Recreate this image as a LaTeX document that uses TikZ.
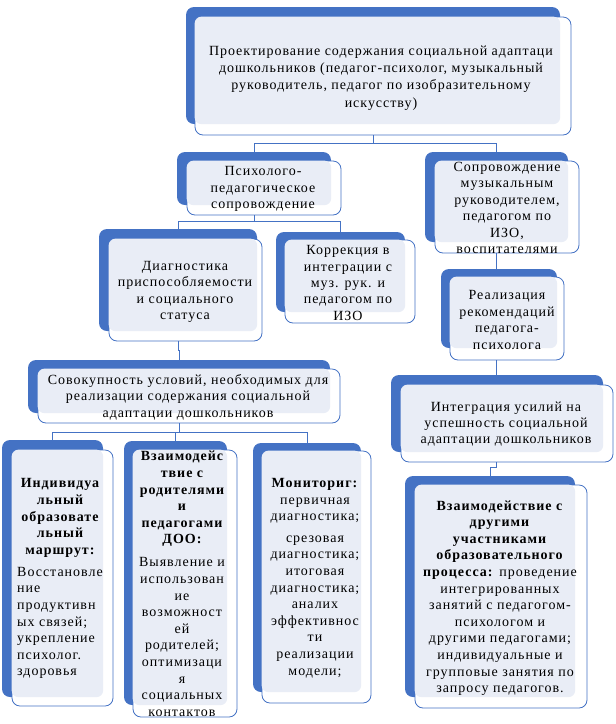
\documentclass[tikz,border=0pt]{standalone}
\usepackage{fontspec}
\setmainfont{Liberation Serif}[LetterSpace=7]
\newfontfamily\tnr{Liberation Serif}[LetterSpace=7]
\usetikzlibrary{fit,calc}
\definecolor{bl}{HTML}{4472C4}
\definecolor{lt}{HTML}{E9EDF6}
\tikzset{
  x=1pt,y=-1pt,
  backbox/.style={fill=bl, rounded corners=8pt, inner sep=0pt, draw=none},
  outbox/.style={draw=bl, line width=0.8pt, fill=white, rounded corners=8pt, inner sep=0pt},
  conn/.style={draw=bl, line width=0.9pt},
  txttop/.style={align=center, inner sep=0pt, font=\tnr\fontsize{14}{17.2}\selectfont},
  txt/.style={align=center, inner sep=0pt, font=\tnr\fontsize{14}{16.4}\selectfont},
  txtsm/.style={align=center, inner sep=0pt, font=\tnr\fontsize{14}{16.6}\selectfont},
  txtb/.style={align=center, inner sep=0pt, font=\tnr\fontsize{14}{16.6}\selectfont\bfseries},
}
% #1 name, #2 blue top-left, #3 blue bottom-right, #4 outline top-left, #5 outline bottom-right
\newcommand\tribox[5]{%
  \node[backbox, fit={(#2) (#3)}] (b-#1) {};
  \node[outbox, fit={(#4) (#5)}] (o-#1) {};
  \fill[lt, rounded corners=7pt] (o-#1.north west) rectangle (b-#1.south east);
}
\begin{document}
\begin{tikzpicture}
\useasboundingbox (0,0) rectangle (616,724);

\tribox{top}{186,7}{560,124}{195,17}{571,135}
\tribox{psy}{177,152}{331,205}{187,161}{341,215}
\tribox{sopr}{425,152}{568,242}{435,161}{579,253}
\tribox{diag}{99,229}{257,331}{109,239}{262,341}
\tribox{korr}{276,232}{405,312}{285,240}{415,323}
\tribox{real}{441,269}{557,348}{450,277}{564,360}
\tribox{sov}{28,360}{330,413}{38,369}{340,423}
\tribox{int}{391,375}{603,452}{401,385}{613,462}
\tribox{ind}{2,440}{103,697}{12,450}{113,706}
\tribox{vz}{124,441}{227,705}{133,450}{237,717}
\tribox{mon}{253,443}{361,692}{262,451}{371,703}
\tribox{vd}{405,476}{575,697}{415,485}{587,708}

% texts
\node[txttop] (t-top) at (381,78) {Проектирование содержания социальной адаптаци\\дошкольников (педагог-психолог, музыкальный\\руководитель, педагог по изобразительному\\искусству)};
\node[txt] (t-psy) at (263,189) {Психолого-\\педагогическое\\сопровождение};
\node[txt] (t-sopr) at (507,208) {Сопровождение\\музыкальным\\руководителем,\\педагогом по\\ИЗО,\\воспитателями};
\node[txt] (t-diag) at (185,292) {Диагностика\\приспособляемости\\и социального\\статуса};
\node[txt] (t-korr) at (348,283) {Коррекция в\\интеграции с\\муз. рук. и\\педагогом по\\ИЗО};
\node[txt] (t-real) at (507,320) {Реализация\\рекомендаций\\педагога-\\психолога};
\node[txt] (t-sov) at (188,397) {Совокупность условий, необходимых для\\реализации содержания социальной\\адаптации дошкольников};
\node[txt] (t-int) at (506,424) {Интеграция усилий на\\успешность социальной\\адаптации дошкольников};

\node[txtb] (t-ind-a) at (60,518) {Индивидуа\\льный\\образовате\\льный\\маршрут:};
\node[txtsm, align=left, anchor=north west] (t-ind-b) at (17,567) {Восстановле\\ние\\продуктивн\\ых связей;\\укрепление\\психолог.\\здоровья};

\node[txtb] (t-vz-a) at (182,499) {Взаимодейс\\твие с\\родителями\\и\\педагогами\\ДОО:};
\node[txtsm] (t-vz-b) at (182,637) {Выявление и\\использован\\ие\\возможност\\ей\\родителей;\\оптимизаци\\я\\социальных\\контактов};

\node[txtsm] (t-mon) at (315,578) {\textbf{Мониториг:}\\первичная\\диагностика;\\[5pt]срезовая\\диагностика;\\итоговая\\диагностика;\\аналих\\эффективнос\\ти\\реализации\\модели;};

\node[txtsm] (t-vd) at (500,598) {\textbf{Взаимодействие с}\\\textbf{другими}\\\textbf{участниками}\\\textbf{образовательного}\\\textbf{процесса:} проведение\\интегрированных\\занятий с педагогом-\\психологом и\\другими педагогами;\\индивидуальные и\\групповые занятия по\\запросу педагогов.};

% connectors
\draw[conn] ([xshift=-10pt]o-top.south) -- ++(0,8) coordinate (j1);
\draw[conn] (b-psy.north) |- (j1) -| (b-sopr.north);
\draw[conn] (o-psy.south -| b-psy.north) -- ++(0,6) coordinate (j2);
\draw[conn] (b-diag.north) |- (j2) -| (b-korr.north);
\draw[conn] (o-diag.south -| b-diag.north) -- ++(0,9) -| (b-sov.north);
\draw[conn] (o-sov.south -| b-sov.north) -- ++(0,9) coordinate (j3);
\draw[conn] (b-ind.north) |- (j3) -| (b-mon.north);
\draw[conn] (j3 -| b-vz.north) -- (b-vz.north);
\draw[conn] (o-sopr.south -| b-sopr.north) -- (b-real.north -| b-sopr.north);
\draw[conn] (o-real.south -| b-sopr.north) -- (b-int.north -| b-sopr.north);
\draw[conn] (o-int.south -| b-sopr.north) -- ++(0,5) -| (b-vd.north);
\end{tikzpicture}
\end{document}
